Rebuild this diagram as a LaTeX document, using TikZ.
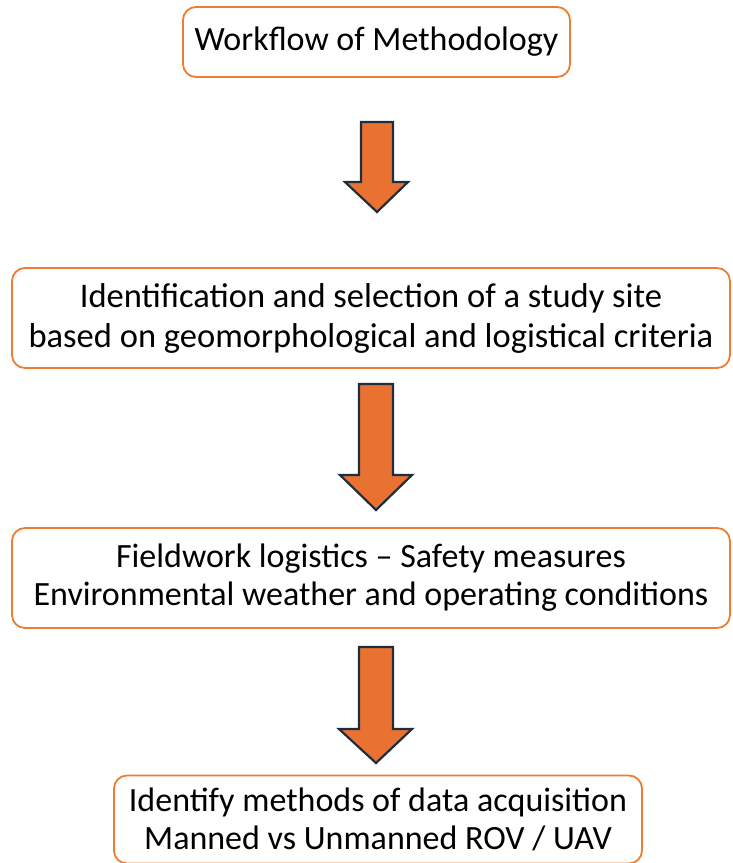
\documentclass[tikz,border=0pt]{standalone}
\usepackage{fontspec}
\setmainfont{Carlito}
\definecolor{boxorange}{HTML}{ED7D31}
\definecolor{arrowfill}{HTML}{E97132}
\definecolor{arrowline}{HTML}{1E2F3B}
\tikzset{
  flowbox/.style={draw=boxorange, line width=1.8pt, rounded corners=13pt, fill=white,
    align=center, inner sep=0pt, text=black,
    font=\fontsize{34}{38}\selectfont},
  blockarrow/.style={fill=arrowfill, draw=arrowline, line width=2.2pt, line join=miter}
}
\begin{document}
\begin{tikzpicture}[x=1pt,y=-1pt]
\useasboundingbox (0,0) rectangle (732,863);
% boxes
\node[flowbox, minimum width=387pt, minimum height=70pt] (b1) at (376.5,42) {Workflow of Methodology};
\node[flowbox, minimum width=718pt, minimum height=100pt, font=\fontsize{34.5}{40}\selectfont] (b2) at (371,318)
  {Identification and selection of a study site\\based on geomorphological and logistical criteria};
\node[flowbox, minimum width=718pt, minimum height=100pt] (b3) at (371,578)
  {Fieldwork logistics -- Safety measures\\Environmental weather and operating conditions};
\node[flowbox, minimum width=528pt, minimum height=88pt] (b4) at (378,819.5)
  {Identify methods of data acquisition\\Manned vs Unmanned ROV / UAV};
% block arrows
\draw[blockarrow] (361,122) -- (393,122) -- (393,182) -- (408,182) -- (377,212)
  -- (345,182) -- (361,182) -- cycle;
\draw[blockarrow] (359,384) -- (393,384) -- (393,475) -- (412,475) -- (376,510)
  -- (340,475) -- (359,475) -- cycle;
\draw[blockarrow] (359,647) -- (393,647) -- (393,729) -- (412,729) -- (376,763)
  -- (339,729) -- (359,729) -- cycle;
\end{tikzpicture}
\end{document}
